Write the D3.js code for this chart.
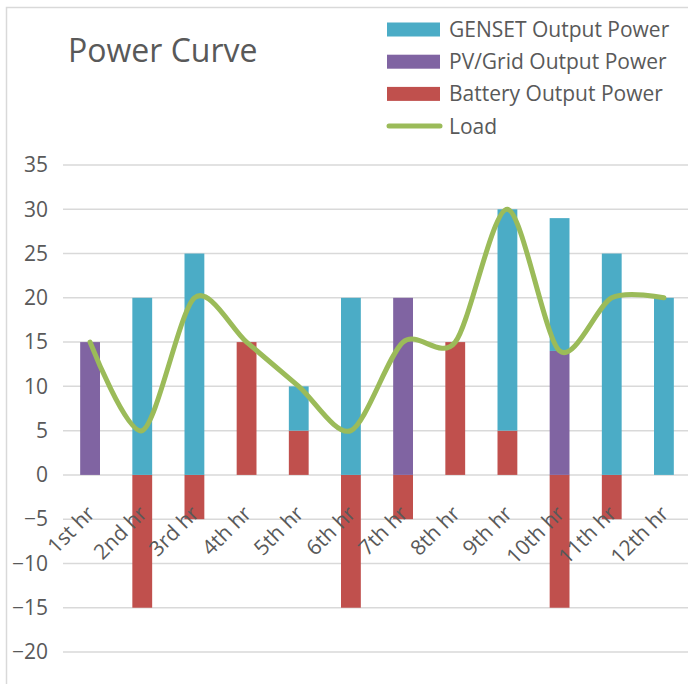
<!DOCTYPE html>
<html>
<head>
<meta charset="utf-8">
<script src="https://cdn.jsdelivr.net/npm/d3@7"></script>
<style>
  html, body { margin: 0; padding: 0; background: #fff; }
  svg { display: block; }
  text { font-family: "Open Sans", sans-serif; fill: #595959; }
</style>
</head>
<body>
<svg id="chart" width="688" height="684"></svg>
<script>
// ---- data ----
const categories = ["1st hr","2nd hr","3rd hr","4th hr","5th hr","6th hr","7th hr","8th hr","9th hr","10th hr","11th hr","12th hr"];
const gensetPower  = [0, 20, 25, 0, 5, 20, 0, 0, 25, 15, 25, 20];
const pvGridPower  = [15, 0, 0, 0, 0, 0, 20, 0, 0, 14, 0, 0];
const batteryPower = [0, -15, -5, 15, 5, -15, -5, 15, 5, -15, -5, 0];
const loadValues   = [15, 5, 20, 15, 10, 5, 15, 15, 30, 14, 20, 20];
const yTicks = [-20, -15, -10, -5, 0, 5, 10, 15, 20, 25, 30, 35];
const seriesNames = ["GENSET Output Power", "PV/Grid Output Power", "Battery Output Power", "Load"];

const colors = {
  genset: "#4BACC6",
  pv: "#8064A2",
  battery: "#C0504D",
  load: "#9BBB59"
};

const svg = d3.select("#chart");

// frame
svg.append("rect").attr("x", 6.5).attr("y", 7.5).attr("width", 700).attr("height", 700)
  .attr("fill", "none").attr("stroke", "#d9d9d9").attr("stroke-width", 1.5);

const x = d3.scaleBand().domain(categories).range([64, 690]).paddingInner(0.62).paddingOuter(0.31);
const y = d3.scaleLinear().domain([-20, 35]).range([652, 165]);

// gridlines
svg.append("g").selectAll("line").data(yTicks).join("line")
  .attr("x1", 63).attr("x2", 688)
  .attr("y1", d => y(d)).attr("y2", d => y(d))
  .attr("stroke", "#d9d9d9").attr("stroke-width", 1.5);

// y axis labels
const yAxis = d3.axisLeft(y).tickValues(yTicks).tickSize(0).tickPadding(0);
const yg = svg.append("g").attr("transform", "translate(48,0)").call(yAxis);
yg.select(".domain").remove();
yg.selectAll("text").attr("font-size", 21).attr("fill", "#595959")
  .attr("font-family", "Open Sans, sans-serif");

// stacked bars
const table = categories.map((c, i) => ({
  cat: c, battery: batteryPower[i], pv: pvGridPower[i], genset: gensetPower[i]
}));
const stack = d3.stack().keys(["battery", "pv", "genset"]).offset(d3.stackOffsetDiverging);
const layers = stack(table);

svg.append("g").selectAll("g").data(layers).join("g")
  .attr("fill", d => colors[d.key])
  .selectAll("rect").data(d => d).join("rect")
  .attr("x", d => x(d.data.cat))
  .attr("width", x.bandwidth())
  .attr("y", d => y(Math.max(d[0], d[1])))
  .attr("height", d => Math.abs(y(d[0]) - y(d[1])));

// load line
const line = d3.line()
  .x((d, i) => x(categories[i]) + x.bandwidth() / 2)
  .y(d => y(d))
  .curve(d3.curveCardinal.tension(0.15));
svg.append("path").datum(loadValues)
  .attr("d", line)
  .attr("fill", "none").attr("stroke", colors.load)
  .attr("stroke-width", 5).attr("stroke-linecap", "round").attr("stroke-linejoin", "round");

// x labels
const xg = svg.append("g");
categories.forEach(c => {
  const cx = x(c) + x.bandwidth() / 2 + 6;
  const cy = y(0) + 40;
  xg.append("text")
    .attr("transform", `translate(${cx},${cy}) rotate(-45)`)
    .attr("text-anchor", "end")
    .attr("font-size", 21)
    .text(c);
});

// title
svg.append("text").attr("x", 68).attr("y", 62).attr("font-size", 32).text("Power Curve");

// legend
const legendKeys = ["genset", "pv", "battery", "load"];
const lg = svg.append("g");
legendKeys.forEach((k, i) => {
  const cy = 29.5 + i * 32.2;
  if (k === "load") {
    lg.append("line").attr("x1", 389).attr("x2", 440).attr("y1", cy).attr("y2", cy)
      .attr("stroke", colors.load).attr("stroke-width", 5).attr("stroke-linecap", "round");
  } else {
    lg.append("rect").attr("x", 387).attr("y", cy - 7).attr("width", 53).attr("height", 14)
      .attr("fill", colors[k]);
  }
  lg.append("text").attr("x", 449).attr("y", cy).attr("dy", "0.36em")
    .attr("font-size", 21).text(seriesNames[i]);
});
</script>
</body>
</html>
